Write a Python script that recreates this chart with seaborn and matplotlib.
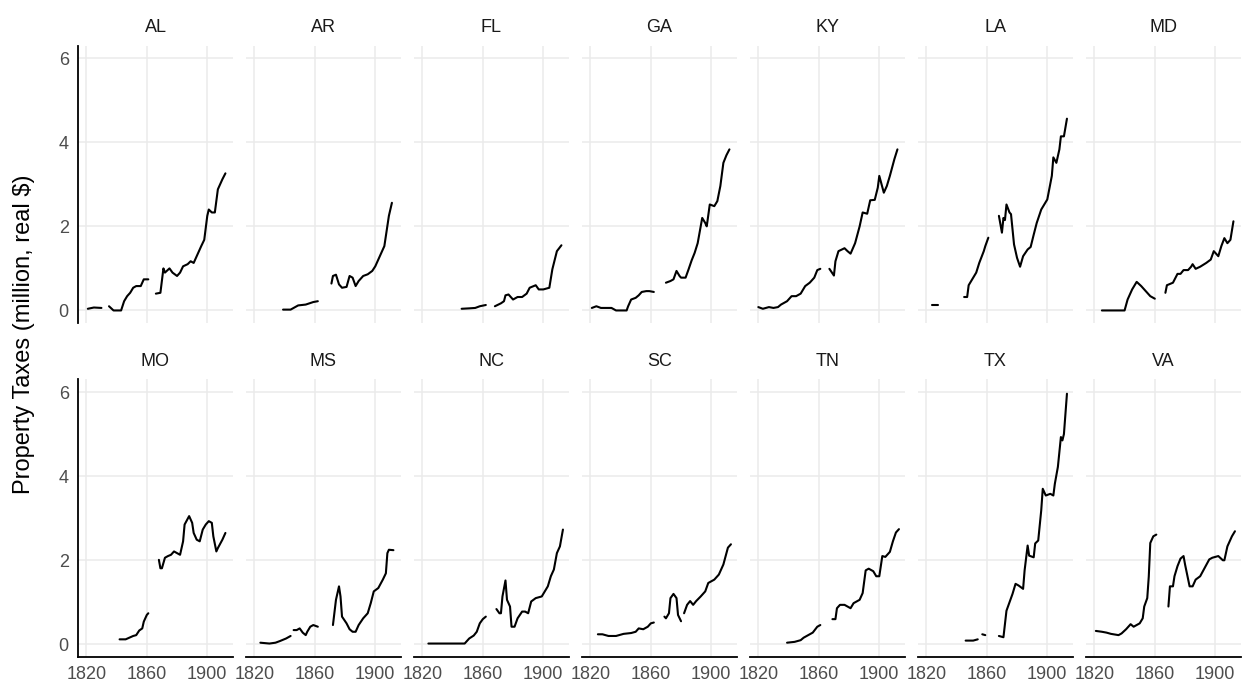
import numpy as np
import pandas as pd
import matplotlib
matplotlib.use("Agg")
import matplotlib.pyplot as plt
import seaborn as sns

# ---------------- data (None marks a gap in the series) ----------------
states = ["AL", "AR", "FL", "GA", "KY", "LA", "MD",
          "MO", "MS", "NC", "SC", "TN", "TX", "VA"]

AL_years = [1821, 1825, 1830, None, 1835, 1838, 1843, 1845, 1847, 1849, 1851, 1853, 1856, 1858, 1861, None,
            1866, 1869, 1871, 1872, 1875, 1877, 1880, 1882, 1884, 1887, 1889, 1891, 1893, 1896, 1898, 1900,
            1901, 1903, 1905, 1907, 1910, 1912]
AL_vals = [0.04, 0.07, 0.06, None, 0.1, 0.0, 0.0, 0.22, 0.34, 0.42, 0.54, 0.58, 0.58, 0.74, 0.74, None,
           0.4, 0.42, 1.0, 0.9, 1.0, 0.9, 0.82, 0.9, 1.05, 1.1, 1.17, 1.13, 1.29, 1.53, 1.68, 2.25,
           2.4, 2.33, 2.33, 2.88, 3.12, 3.26]

AR_years = [1839, 1844, 1849, 1854, 1859, 1862, None, 1871, 1872, 1874, 1876, 1878, 1881, 1883, 1885, 1887,
            1889, 1892, 1895, 1898, 1900, 1903, 1905, 1906, 1909, 1911]
AR_vals = [0.02, 0.02, 0.12, 0.14, 0.2, 0.22, None, 0.64, 0.82, 0.85, 0.62, 0.54, 0.56, 0.82, 0.78, 0.58,
           0.7, 0.82, 0.86, 0.94, 1.05, 1.29, 1.45, 1.53, 2.25, 2.56]

FL_years = [1846, 1851, 1855, 1858, 1862, None, 1868, 1872, 1874, 1875, 1877, 1880, 1883, 1886, 1889, 1891,
            1895, 1897, 1900, 1904, 1906, 1909, 1912]
FL_vals = [0.04, 0.05, 0.06, 0.1, 0.13, None, 0.1, 0.17, 0.22, 0.36, 0.38, 0.26, 0.32, 0.32, 0.4, 0.54,
           0.6, 0.5, 0.5, 0.54, 0.98, 1.41, 1.55]

GA_years = [1821, 1824, 1827, 1831, 1834, 1837, 1844, 1845, 1847, 1850, 1852, 1854, 1857, 1859, 1862, None,
            1870, 1873, 1875, 1877, 1879, 1880, 1883, 1885, 1887, 1889, 1891, 1893, 1894, 1896, 1897, 1899,
            1902, 1904, 1906, 1908, 1910, 1912]
GA_vals = [0.06, 0.1, 0.06, 0.06, 0.06, 0.0, 0.0, 0.1, 0.26, 0.3, 0.36, 0.44, 0.46, 0.46, 0.44, None,
           0.66, 0.7, 0.74, 0.94, 0.82, 0.78, 0.78, 0.98, 1.19, 1.37, 1.6, 2.0, 2.2, 2.08, 2.0, 2.52,
           2.48, 2.6, 2.96, 3.51, 3.69, 3.83]

KY_years = [1820, 1823, 1827, 1830, 1833, 1835, 1839, 1842, 1845, 1848, 1851, 1854, 1857, 1859, 1861, None,
            1867, 1870, 1871, 1873, 1877, 1879, 1881, 1884, 1887, 1889, 1892, 1894, 1897, 1899, 1900, 1903,
            1905, 1907, 1910, 1912]
KY_vals = [0.08, 0.04, 0.08, 0.06, 0.08, 0.14, 0.22, 0.34, 0.34, 0.4, 0.58, 0.66, 0.78, 0.96, 0.99, None,
           0.99, 0.83, 1.17, 1.41, 1.48, 1.41, 1.35, 1.6, 2.0, 2.33, 2.3, 2.62, 2.63, 2.92, 3.2, 2.8,
           2.96, 3.2, 3.6, 3.83]

LA_years = [1824, 1828, None, 1845, 1847, 1848, 1851, 1853, 1855, 1858, 1859, 1861, None,
            1868, 1870, 1871, 1872, 1873, 1875, 1876, 1878, 1880, 1882, 1884, 1887, 1889, 1891, 1893, 1896,
            1900, 1903, 1904, 1906, 1908, 1909, 1911, 1913]
LA_vals = [0.13, 0.13, None, 0.32, 0.32, 0.6, 0.78, 0.9, 1.13, 1.41, 1.53, 1.73, None,
           2.25, 1.85, 2.2, 2.15, 2.52, 2.33, 2.29, 1.57, 1.25, 1.04, 1.29, 1.45, 1.51, 1.8, 2.08, 2.4,
           2.64, 3.2, 3.64, 3.51, 3.83, 4.14, 4.14, 4.56]

MD_years = [1825, 1840, 1842, 1845, 1848, 1851, 1854, 1857, 1860, None, 1867, 1868, 1872, 1875, 1877, 1879,
            1882, 1884, 1885, 1887, 1890, 1894, 1897, 1899, 1902, 1904, 1906, 1908, 1910, 1912]
MD_vals = [0.0, 0.0, 0.26, 0.5, 0.68, 0.58, 0.46, 0.34, 0.28, None, 0.42, 0.6, 0.66, 0.87, 0.87, 0.96,
           0.96, 1.04, 1.1, 0.99, 1.04, 1.13, 1.21, 1.41, 1.29, 1.53, 1.72, 1.6, 1.68, 2.12]

MO_years = [1842, 1846, 1851, 1853, 1855, 1857, 1858, 1860, 1861, None, 1868, 1869, 1870, 1872, 1874, 1876,
            1878, 1880, 1882, 1884, 1885, 1888, 1890, 1891, 1893, 1895, 1897, 1899, 1901, 1903, 1904, 1906,
            1907, 1910, 1912]
MO_vals = [0.12, 0.12, 0.2, 0.22, 0.33, 0.38, 0.54, 0.7, 0.74, None, 2.01, 1.81, 1.81, 2.06, 2.1, 2.13,
           2.21, 2.17, 2.13, 2.45, 2.85, 3.05, 2.89, 2.65, 2.49, 2.45, 2.73, 2.85, 2.93, 2.89, 2.57, 2.21,
           2.29, 2.49, 2.65]

MS_years = [1824, 1830, 1834, 1837, 1841, 1844, None, 1846, 1848, 1850, 1852, 1854, 1855, 1857, 1859, 1862, None,
            1872, 1874, 1876, 1877, 1878, 1881, 1883, 1885, 1887, 1889, 1892, 1895, 1897, 1899, 1902, 1905,
            1907, 1908, 1909, 1912]
MS_vals = [0.04, 0.02, 0.04, 0.08, 0.14, 0.2, None, 0.34, 0.34, 0.38, 0.28, 0.22, 0.3, 0.42, 0.46, 0.42, None,
           0.46, 1.06, 1.38, 1.14, 0.66, 0.5, 0.36, 0.3, 0.3, 0.46, 0.62, 0.74, 0.98, 1.26, 1.34, 1.54,
           1.69, 2.17, 2.25, 2.24]

NC_years = [1824, 1848, 1851, 1854, 1856, 1858, 1860, 1862, None, 1869, 1871, 1872, 1873, 1875, 1876, 1878,
            1879, 1881, 1883, 1886, 1888, 1890, 1892, 1895, 1899, 1903, 1905, 1907, 1909, 1911, 1913]
NC_vals = [0.02, 0.02, 0.14, 0.21, 0.3, 0.5, 0.6, 0.66, None, 0.84, 0.74, 0.74, 1.14, 1.52, 1.06, 0.9,
           0.42, 0.42, 0.62, 0.78, 0.78, 0.74, 1.02, 1.1, 1.14, 1.38, 1.62, 1.78, 2.17, 2.33, 2.73]

SC_years = [1825, 1828, 1832, 1837, 1842, 1847, 1850, 1852, 1855, 1858, 1860, 1862, None, 1869, 1870, 1872,
            1873, 1875, 1877, 1878, 1880, None, 1882, 1884, 1886, 1888, 1890, 1893, 1896, 1898, 1902, 1905,
            1908, 1911, 1913]
SC_vals = [0.24, 0.24, 0.2, 0.2, 0.25, 0.27, 0.3, 0.38, 0.36, 0.42, 0.5, 0.52, None, 0.66, 0.62, 0.74,
           1.1, 1.2, 1.1, 0.7, 0.55, None, 0.74, 0.94, 1.03, 0.94, 1.03, 1.14, 1.26, 1.46, 1.54, 1.66,
           1.9, 2.3, 2.38]

TN_years = [1839, 1844, 1848, 1850, 1853, 1856, 1859, 1861, None, 1869, 1871, 1872, 1874, 1877, 1879, 1881,
            1883, 1887, 1889, 1891, 1893, 1896, 1898, 1900, 1902, 1904, 1907, 1909, 1911, 1913]
TN_vals = [0.04, 0.06, 0.1, 0.16, 0.22, 0.28, 0.42, 0.46, None, 0.6, 0.6, 0.86, 0.94, 0.94, 0.9, 0.86,
           0.98, 1.06, 1.22, 1.76, 1.8, 1.74, 1.62, 1.62, 2.1, 2.08, 2.2, 2.45, 2.66, 2.74]

TX_years = [1846, 1851, 1854, None, 1857, 1859, None, 1868, 1870, 1871, 1873, 1875, 1877, 1879, 1881, 1884,
            1885, 1887, 1888, 1891, 1892, 1894, 1896, 1897, 1899, 1902, 1904, 1905, 1907, 1909, 1910, 1911,
            1913]
TX_vals = [0.09, 0.09, 0.12, None, 0.24, 0.22, None, 0.2, 0.18, 0.17, 0.8, 1.0, 1.2, 1.44, 1.4, 1.32,
           1.76, 2.35, 2.11, 2.07, 2.4, 2.47, 3.19, 3.7, 3.54, 3.58, 3.54, 3.82, 4.22, 4.93, 4.85, 5.0,
           5.96]

VA_years = [1821, 1825, 1828, 1831, 1836, 1838, 1841, 1844, 1846, 1850, 1852, 1853, 1855, 1856, 1857, 1859,
            1861, None, 1869, 1870, 1872, 1873, 1875, 1877, 1879, 1880, 1883, 1885, 1887, 1890, 1893, 1896,
            1898, 1902, 1905, 1906, 1908, 1911, 1913]
VA_vals = [0.32, 0.3, 0.28, 0.25, 0.22, 0.26, 0.36, 0.48, 0.42, 0.5, 0.62, 0.9, 1.1, 1.61, 2.41, 2.57,
           2.61, None, 0.9, 1.38, 1.38, 1.62, 1.86, 2.04, 2.1, 1.9, 1.38, 1.38, 1.54, 1.62, 1.82, 2.02,
           2.06, 2.1, 2.0, 2.0, 2.33, 2.57, 2.69]

x_ticks = [1820, 1860, 1900]
y_ticks = [0, 2, 4, 6]
y_label = "Property Taxes (million, real $)"

series = {
    "AL": (AL_years, AL_vals), "AR": (AR_years, AR_vals), "FL": (FL_years, FL_vals),
    "GA": (GA_years, GA_vals), "KY": (KY_years, KY_vals), "LA": (LA_years, LA_vals),
    "MD": (MD_years, MD_vals), "MO": (MO_years, MO_vals), "MS": (MS_years, MS_vals),
    "NC": (NC_years, NC_vals), "SC": (SC_years, SC_vals), "TN": (TN_years, TN_vals),
    "TX": (TX_years, TX_vals), "VA": (VA_years, VA_vals),
}

# ---------------- build long table with segment ids ----------------
rows = []
for st in states:
    yrs, vals = series[st]
    seg = 0
    for yr, v in zip(yrs, vals):
        if yr is None:
            seg += 1
            continue
        rows.append({"state": st, "year": yr, "tax": v, "seg": f"{st}-{seg}"})
df = pd.DataFrame(rows)

# ---------------- style ----------------
sns.set_style("white")
plt.rcParams["font.family"] = ["Liberation Sans", "DejaVu Sans"]

g = sns.FacetGrid(df, col="state", col_order=states, col_wrap=7,
                  sharex=True, sharey=True, despine=False, height=2.8, aspect=0.56)
g.map_dataframe(sns.lineplot, x="year", y="tax", units="seg", estimator=None,
                color="black", linewidth=1.5, sort=True)
g.set_axis_labels("", "")

fig = g.figure
fig.set_size_inches(12.46, 6.83)
fig.subplots_adjust(left=78 / 1246, right=1241 / 1246, top=1 - 45.5 / 683,
                    bottom=1 - 657 / 683, wspace=0.084, hspace=0.203)

for i, ax in enumerate(g.axes.flat):
    row, col = divmod(i, 7)
    ax.set_xlim(1814.5, 1917)
    ax.set_ylim(-0.3, 6.3)
    ax.set_xticks(x_ticks)
    ax.set_yticks(y_ticks)
    ax.grid(True, color="#ebebeb", linewidth=1.1)
    ax.set_axisbelow(True)
    ax.set_facecolor("white")
    for s in ("top", "right"):
        ax.spines[s].set_visible(False)
    ax.spines["left"].set_visible(col == 0)
    ax.spines["bottom"].set_visible(row == 1)
    for s in ("left", "bottom"):
        ax.spines[s].set_color("black")
        ax.spines[s].set_linewidth(1.3)
    ax.tick_params(axis="y", length=3.6 if col == 0 else 0, width=1.1, color="black",
                   labelsize=13, labelcolor="#4d4d4d", pad=3, labelleft=(col == 0))
    ax.tick_params(axis="x", length=3.6 if row == 1 else 0, width=1.1, color="black",
                   labelsize=13, labelcolor="#4d4d4d", pad=3, labelbottom=(row == 1))
    ax.set_title(states[i], fontsize=13, color="#1a1a1a", pad=9.5)

fig.text(0.019, 1 - 334 / 683, y_label, rotation=90, va="center", ha="center",
         fontsize=17, color="black")

fig.savefig("out.png", dpi=100)
